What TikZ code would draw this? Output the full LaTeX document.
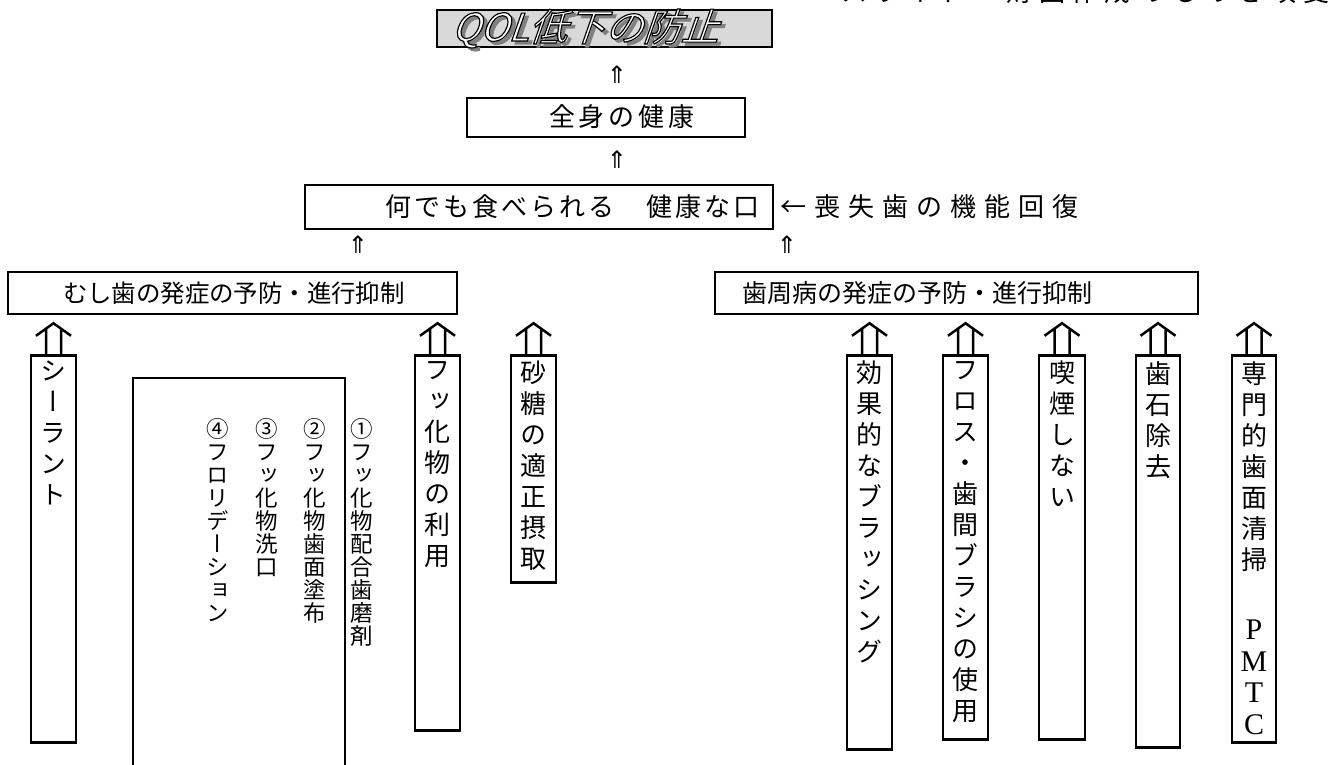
\documentclass[tikz,border=0pt]{standalone}
\usepackage{fontspec}
\newfontfamily\jp{Noto Sans CJK JP}
\newfontfamily\jpv[RawFeature=+vert]{Noto Sans CJK JP}
\newfontfamily\jpsl[FakeSlant=0.35,FakeBold=3]{Noto Sans CJK JP}
\newfontfamily\lserif{Liberation Serif}
\newfontfamily\dejavu{DejaVu Sans}
\usetikzlibrary{calc}
\ExplSyntaxOn
\NewDocumentCommand\hsp{m m}{\tl_map_inline:nn {#2}{\makebox[#1][c]{##1}}}
\NewDocumentCommand\vsp{m m}{\vbox{\baselineskip=#1\lineskiplimit=-\maxdimen\lineskip=0pt\relax
  \tl_map_inline:nn {#2}{\hbox to 1.2em{\hss ##1\hss}}}}
\ExplSyntaxOff
\tikzset{
  hbox/.style={draw, line width=2.5pt, rectangle, inner sep=0pt},
  vbox/.style={draw, line width=2.5pt, rectangle, inner sep=0pt, minimum width=45pt, anchor=north},
  htxt/.style={inner sep=0pt, font=\jp\fontsize{26}{31}\selectfont},
  vtxt/.style={inner sep=0pt, anchor=north, font=\jpv\fontsize{26}{31}\selectfont},
  smallup/.style={inner sep=0pt, font=\dejavu\fontsize{24}{26}\selectfont},
  bigup/.style={line width=2.5pt, to path={
    let \p1=(\tikztostart), \p2=(\tikztotarget) in
    (\x1-7.5pt,\y1) -- (\x1-7.5pt,\y2-5pt)
    (\x1+7.5pt,\y1) -- (\x1+7.5pt,\y2-5pt)
    (\x1-17.5pt,\y2-12.5pt) -- (\x1,\y2) -- (\x1+17.5pt,\y2-12.5pt)}},
  qol/.style={inner sep=0pt, font=\jpsl\fontsize{38}{40}\selectfont}
}
\begin{document}
\begin{tikzpicture}[x=1pt,y=-1pt]
\useasboundingbox (0,0) rectangle (1341,765);
% top right note (cut off at the top edge)
\node[htxt, anchor=base] (note) at (1085,2) {\hsp{33pt}{スライド・財団作成のものを改変}};
% title (word-art: gray shadow, white letters with black outline)
\node[hbox, fill=black!15, minimum width=335pt, minimum height=37pt] (qbox) at (604.5,28.5) {};
\node[qol, text=black!50] (qs) at (588.5,31.5) {QOL低下の防止};
\node[qol, text=white] (qt) at (585,28.5) {\special{pdf:literal direct 0 G}QOL低下の防止};
% small arrows
\node[smallup] (a1) at (617,75) {⇑};
\node[hbox, minimum width=278pt, minimum height=39pt] (zen) at (606,117.5) {};
\node[htxt] (zent) at (622,117) {\hsp{30pt}{全身の健康}};
\node[smallup] (a2) at (617,160) {⇑};
\node[hbox, minimum width=468pt, minimum height=44pt] (kuchi) at (539,207) {};
\node[htxt] (kuchit) at (572.5,207) {\hsp{29pt}{何でも食べられる　健康な口}};
\node[htxt, anchor=west] (sou) at (776,207) {\hsp{34pt}{←喪失歯の機能回復}};
\node[smallup] (a3) at (358,245) {⇑};
\node[smallup] (a4) at (787,245) {⇑};
% second row
\node[hbox, minimum width=449pt, minimum height=42pt] (mushi) at (232.5,293) {};
\node[htxt, anchor=west, font=\jp\fontsize{24.5}{30}\selectfont] (mushit) at (63,293) {\hsp{24.4pt}{むし歯の発症の予防・進行抑制}};
\node[hbox, minimum width=483pt, minimum height=42pt] (shisyu) at (956.5,293) {};
\node[htxt, anchor=west, font=\jp\fontsize{25}{30}\selectfont] (shisyut) at (742,293) {\hsp{25pt}{歯周病の発症の予防・進行抑制}};
% vertical boxes
\node[vbox, minimum height=387pt] (seal) at (53.5,354) {};
\node[vtxt] (sealt) at (53.5,361) {\vsp{31pt}{シーラント}};
\node[draw, line width=1.5pt, rectangle, inner sep=0pt, minimum width=212pt, minimum height=400pt, anchor=north] (flist) at (239,377) {};
\node[vtxt, font=\jpv\fontsize{22.5}{23}\selectfont] (f1) at (362,418) {\vsp{23pt}{①フッ化物配合歯磨剤}};
\node[vtxt, font=\jpv\fontsize{22.5}{23}\selectfont] (f2) at (315,418) {\vsp{23pt}{②フッ化物歯面塗布}};
\node[vtxt, font=\jpv\fontsize{22.5}{23}\selectfont] (f3) at (267,418) {\vsp{23pt}{③フッ化物洗口}};
\node[vtxt, font=\jpv\fontsize{22.5}{23}\selectfont] (f4) at (218,418) {\vsp{23pt}{④フロリデーション}};
\node[vbox, minimum height=375pt] (fuse) at (437.5,354) {};
\node[vtxt] (fuset) at (437.5,361) {\vsp{31pt}{フッ化物の利用}};
\node[vbox, minimum height=227pt] (sugar) at (533.5,354) {};
\node[vtxt] (sugart) at (533.5,361) {\vsp{31pt}{砂糖の適正摂取}};
\node[vbox, minimum height=394pt] (brush) at (869.5,354) {};
\node[vtxt] (brusht) at (869.5,361) {\vsp{31pt}{効果的なブラッシング}};
\node[vbox, minimum height=384pt] (floss) at (965.5,354) {};
\node[vtxt] (flosst) at (965.5,361) {\vsp{31pt}{フロス・歯間ブラシの使用}};
\node[vbox, minimum height=384pt, minimum width=46pt] (smoke) at (1062,354) {};
\node[vtxt] (smoket) at (1062,361) {\vsp{31pt}{喫煙しない}};
\node[vbox, minimum height=392pt, minimum width=44pt] (calc) at (1158,354) {};
\node[vtxt] (calct) at (1158,361) {\vsp{31pt}{歯石除去}};
\node[vbox, minimum height=387pt, minimum width=44pt] (pmtc) at (1254,354) {};
\node[vtxt] (pmtct) at (1254,361) {\vsp{31pt}{専門的歯面清掃}};
\node[vtxt, font=\lserif\fontsize{30}{31}\selectfont] (pmtcl) at (1254,620) {\vsp{31.5pt}{PMTC}};
% big arrows
\draw[bigup] (seal.north) to ($(seal.north |- mushi.south)+(0,8)$);
\draw[bigup] (fuse.north) to ($(fuse.north |- mushi.south)+(0,8)$);
\draw[bigup] (sugar.north) to ($(sugar.north |- mushi.south)+(0,8)$);
\draw[bigup] (brush.north) to ($(brush.north |- shisyu.south)+(0,8)$);
\draw[bigup] (floss.north) to ($(floss.north |- shisyu.south)+(0,8)$);
\draw[bigup] (smoke.north) to ($(smoke.north |- shisyu.south)+(0,8)$);
\draw[bigup] (calc.north) to ($(calc.north |- shisyu.south)+(0,8)$);
\draw[bigup] (pmtc.north) to ($(pmtc.north |- shisyu.south)+(0,8)$);
\end{tikzpicture}
\end{document}
